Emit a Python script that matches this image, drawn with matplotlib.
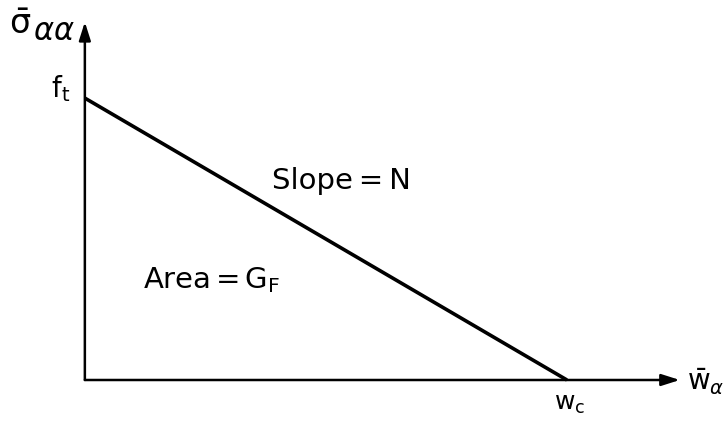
import matplotlib
matplotlib.use("Agg")
import matplotlib.pyplot as plt

plt.rcParams['font.family'] = ['DejaVu Sans']
plt.rcParams['mathtext.fontset'] = 'dejavusans'

# softening law: tensile strength f_t at zero opening, zero stress at w_c
w_points = [0.0, 1.0]
sigma_points = [1.0, 0.0]
x_axis_end = 1.234
y_axis_end = 1.27

fig = plt.figure(figsize=(7.28, 4.22), dpi=100)
ax = fig.add_axes([0, 0, 1, 1])
ax.set_xlim(-0.176, 1.334)
ax.set_ylim(-0.149, 1.348)
ax.axis('off')

# axes with arrow heads
arrow = dict(arrowstyle='-|>,head_length=1.1,head_width=0.35', color='black',
             lw=1.8, shrinkA=0, shrinkB=0)
ax.annotate('', xy=(x_axis_end, 0), xytext=(0, 0), arrowprops=arrow)
ax.annotate('', xy=(0, y_axis_end), xytext=(0, 0), arrowprops=arrow)

ax.plot(w_points, sigma_points, color='black', lw=2.6, solid_capstyle='butt')

# stress axis label: sigma bar with large alpha-alpha subscript
ax.text(-0.112, 1.228, r'$\bar{\mathrm{σ}}$', fontsize=24,
        ha='right', va='baseline')
ax.text(-0.108, 1.205, r'$\alpha\alpha$', fontsize=22,
        ha='left', va='baseline')
ax.text(-0.031, 1.003, r'$\mathrm{f}_{\mathrm{t}}$', fontsize=20,
        ha='right', va='baseline')
ax.text(1.249, -0.035, r'$\bar{\mathrm{w}}_{\alpha}$', fontsize=20,
        ha='left', va='baseline')
ax.text(w_points[1] + 0.006, -0.106, r'$\mathrm{w}_{\mathrm{c}}$', fontsize=18,
        ha='center', va='baseline')
ax.text(0.388, 0.677, 'Slope\u2009=\u2009N', fontsize=21, ha='left', va='baseline')
ax.text(0.12, 0.326, r'Area$\,$=$\,$G$_\mathrm{F}$', fontsize=21,
        ha='left', va='baseline')

fig.savefig('out.png', dpi=100)
